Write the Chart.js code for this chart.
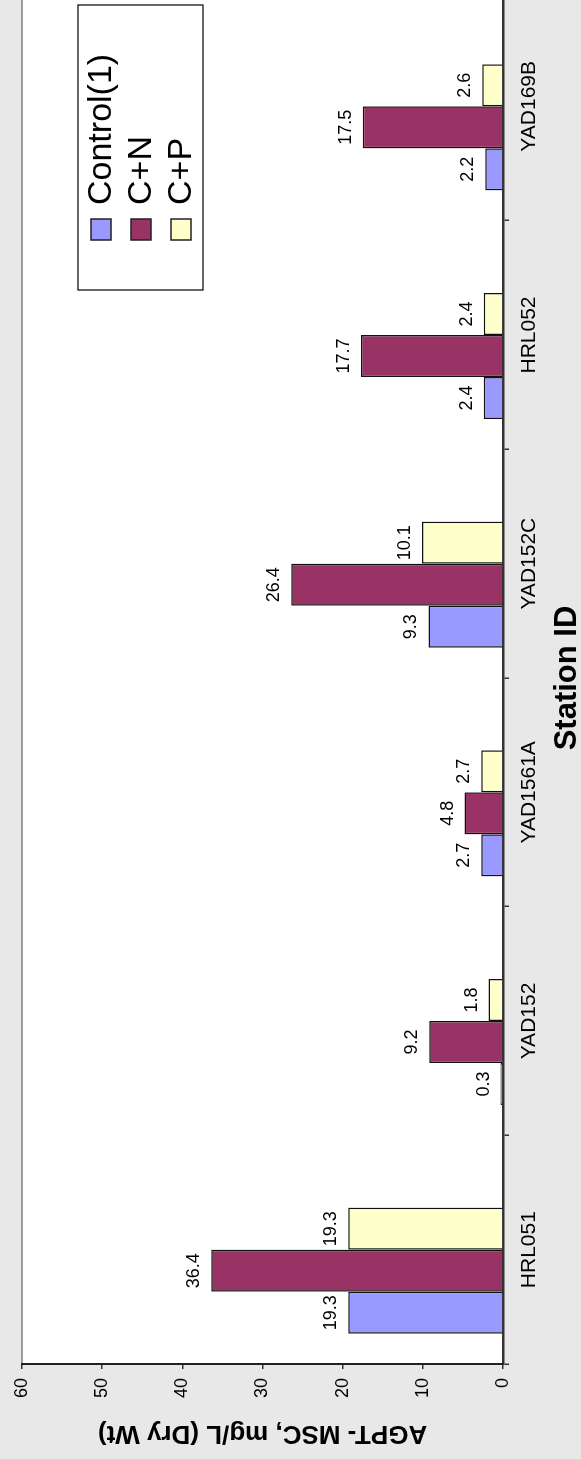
<!DOCTYPE html>
<html>
<head>
<meta charset="utf-8">
<script src="https://cdn.jsdelivr.net/npm/chart.js@4"></script>
<style>
  html, body {
    margin: 0;
    padding: 0;
    width: 581px;
    height: 1459px;
    overflow: hidden;
    background: #e8e8e8;
  }
  /* chart is drawn landscape, then turned a quarter counter-clockwise */
  #wrap {
    position: absolute;
    left: 0;
    top: 0;
    width: 1468px;
    height: 581px;
    transform-origin: 0 0;
    transform: translateY(1459px) rotate(-90deg);
  }
</style>
</head>
<body>
<div id="wrap"><canvas id="chart" width="1468" height="581"></canvas></div>
<script>
// ===================================
// Data
// ===================================
const stations = ["HRL051", "YAD152", "YAD1561A", "YAD152C", "HRL052", "YAD169B"];
const controlValues = [19.3, 0.3, 2.7, 9.3, 2.4, 2.2];
const cnValues = [36.4, 9.2, 4.8, 26.4, 17.7, 17.5];
const cpValues = [19.3, 1.8, 2.7, 10.1, 2.4, 2.6];
const seriesNames = ["Control(1)", "C+N", "C+P"];
const seriesColors = ["#9999ff", "#993366", "#ffffcc"];
const valueTicks = [0, 10, 20, 30, 40, 50, 60];

const FONT = "'Liberation Sans', Arial, sans-serif";

// ===================================
// Plugins
// ===================================
const plotBackground = {
  id: "plotBackground",
  beforeDraw(chart) {
    const { ctx, chartArea: a } = chart;
    ctx.save();
    ctx.fillStyle = "#ffffff";
    ctx.fillRect(a.left, a.top, a.right - a.left, a.bottom - a.top);
    ctx.strokeStyle = "#808080";
    ctx.lineWidth = 1.5;
    ctx.beginPath();
    ctx.moveTo(a.left, a.top);
    ctx.lineTo(a.right, a.top);
    ctx.stroke();
    ctx.restore();
  },
};

// value labels above each bar
const barValues = {
  id: "barValues",
  afterDatasetsDraw(chart) {
    const ctx = chart.ctx;
    ctx.save();
    ctx.font = "18px " + FONT;
    ctx.fillStyle = "#000";
    ctx.textAlign = "center";
    ctx.textBaseline = "alphabetic";
    chart.data.datasets.forEach((ds, i) => {
      if (!ds.showValues) return;
      chart.getDatasetMeta(i).data.forEach((bar, j) => {
        ctx.fillText(ds.data[j].toFixed(1), bar.x, bar.y - 12);
      });
    });
    ctx.restore();
  },
};

// boxed legend inside the plot
const boxLegend = {
  id: "boxLegend",
  afterDraw(chart) {
    const ctx = chart.ctx;
    ctx.save();
    ctx.fillStyle = "#fff";
    ctx.fillRect(1169, 78, 285, 125);
    ctx.strokeStyle = "#000";
    ctx.lineWidth = 1.2;
    ctx.strokeRect(1169, 78, 285, 125);
    ctx.font = "34px " + FONT;
    ctx.textBaseline = "middle";
    seriesNames.forEach((name, i) => {
      const cy = 101 + i * 40;
      ctx.fillStyle = seriesColors[i];
      ctx.fillRect(1219, cy - 10, 21, 20);
      ctx.strokeStyle = "#222";
      ctx.lineWidth = 1.5;
      ctx.strokeRect(1219, cy - 10, 21, 20);
      ctx.fillStyle = "#000";
      ctx.fillText(name, 1254, cy + 1);
    });
    ctx.restore();
  },
};

// ===================================
// Chart
// ===================================
const valueLists = [controlValues, cnValues, cpValues];
const datasets = valueLists.map((vals, i) => ({
  label: seriesNames[i],
  data: vals,
  backgroundColor: seriesColors[i],
  borderColor: "#111",
  borderWidth: 1.5,
  showValues: true,
}));
// empty slot so the group sits off-centre like the original
datasets.push({ label: "", data: stations.map(() => null), backgroundColor: "transparent" });

new Chart(document.getElementById("chart"), {
  type: "bar",
  data: { labels: stations, datasets: datasets },
  options: {
    responsive: false,
    animation: false,
    devicePixelRatio: 1,
    layout: { padding: { top: 22, right: 1, left: 0, bottom: 0 } },
    datasets: { bar: { categoryPercentage: 0.735, barPercentage: 1.0 } },
    plugins: {
      legend: { display: false },
      tooltip: { enabled: false },
    },
    scales: {
      x: {
        grid: { offset: true, drawOnChartArea: false, tickLength: 6, color: "#333", lineWidth: 1.5 },
        border: { color: "#333", width: 2.5 },
        ticks: { font: { family: FONT, size: 21 }, color: "#000", padding: 8, maxRotation: 0 },
        title: {
          display: true,
          text: "Station ID",
          color: "#000",
          font: { family: FONT, size: 31, weight: "bold", lineHeight: 0.8 },
          padding: { top: 0, bottom: 1 },
        },
        afterFit(scale) {
          scale.height = 78;
        },
      },
      y: {
        min: 0,
        max: 60,
        afterBuildTicks(scale) {
          scale.ticks = valueTicks.map((v) => ({ value: v }));
        },
        grid: { drawOnChartArea: false, tickLength: 5, color: "#333", lineWidth: 1.5 },
        border: { color: "#222", width: 2 },
        ticks: { font: { family: FONT, size: 18 }, color: "#000", padding: 9 },
        title: {
          display: true,
          text: "AGPT- MSC, mg/L (Dry Wt)",
          color: "#000",
          font: { family: FONT, size: 26, weight: "bold", lineHeight: 1.2 },
          padding: { top: 10, bottom: 0 },
        },
        afterFit(scale) {
          scale.width = 95;
        },
      },
    },
  },
  plugins: [plotBackground, barValues, boxLegend],
});
</script>
</body>
</html>
